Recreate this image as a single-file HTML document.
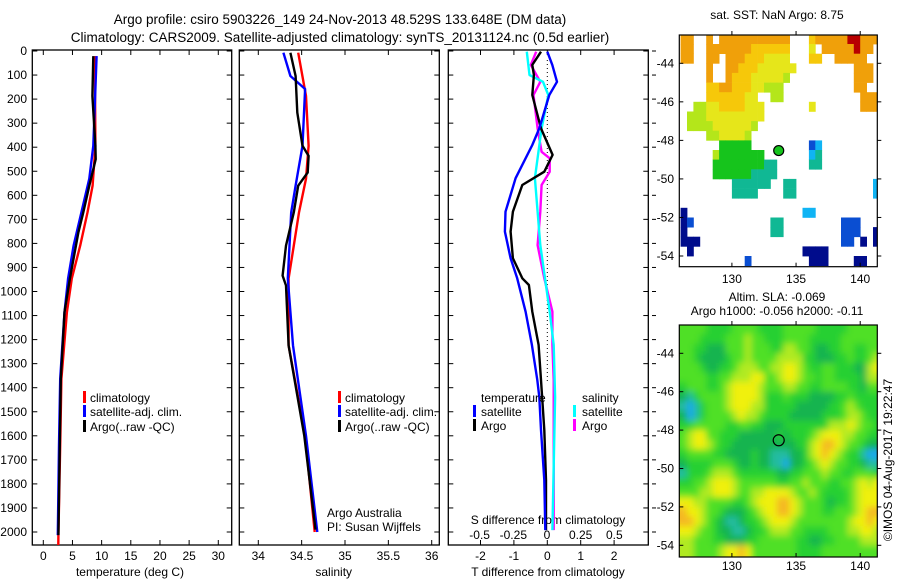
<!DOCTYPE html>
<html><head><meta charset="utf-8"><style>
body{margin:0;background:#fff;}
svg{display:block;font-family:"Liberation Sans",sans-serif;}
</style></head><body>
<svg id="fig" width="900" height="580" viewBox="0 0 900 580" xmlns="http://www.w3.org/2000/svg">
<defs>
<clipPath id="cp1"><rect x="28" y="50" width="204" height="495"/></clipPath>
<clipPath id="cp2"><rect x="239.3" y="50" width="200" height="495"/></clipPath>
<clipPath id="cp3"><rect x="448.3" y="50" width="200" height="495"/></clipPath>
<clipPath id="cm1"><rect x="679.3" y="35" width="198" height="231.7"/></clipPath>
<clipPath id="cm2"><rect x="679.3" y="325" width="198" height="232"/></clipPath>
<filter id="blur" x="-5%" y="-5%" width="110%" height="110%"><feGaussianBlur stdDeviation="3.5"/></filter>
</defs>
<text x="340" y="24" text-anchor="middle" font-size="13.5">Argo profile: csiro 5903226_149 24-Nov-2013 48.529S 133.648E (DM data)</text>
<text x="340" y="42" text-anchor="middle" font-size="13.5">Climatology: CARS2009. Satellite-adjusted climatology: synTS_20131124.nc (0.5d earlier)</text>
<g id="g1"></g>
<g id="g2"></g>
<g id="g3"></g>
<g id="gm1"></g>
<g id="gm2"></g>
</svg>
<script>
// ---------- profile data ----------
const tClimDepth = [21,394,560,671,809,946,1086,1363,1640,2013,2060];
const tClimVal   = [8.83,8.93,8.46,7.58,6.33,4.88,4.04,3.11,2.90,2.59,2.57];
const tSatDepth  = [21,394,531,671,809,946,1086,1363,1640,2013];
const tSatVal    = [9.14,8.58,7.89,6.54,5.19,4.25,3.63,2.90,2.69,2.48];
const tArgoDepth = [21,187,394,450,560,671,754,946,1086,1363,2013];
const tArgoVal   = [8.57,8.41,8.93,8.99,7.89,6.85,6.02,4.56,3.63,3.00,2.59];

const sClimDepth = [7,187,394,531,671,809,946,1224,1600,2000];
const sClimVal   = [34.46,34.55,34.58,34.55,34.47,34.41,34.35,34.35,34.54,34.65];
const sSatDepth  = [7,104,158,394,560,671,809,946,1224,1600,2000];
const sSatVal    = [34.29,34.37,34.54,34.51,34.43,34.38,34.36,34.34,34.40,34.55,34.68];
const sArgoDepth = [7,104,256,394,436,505,560,671,809,934,975,1224,1600,1990];
const sArgoVal   = [34.37,34.43,34.45,34.51,34.58,34.57,34.46,34.41,34.32,34.28,34.32,34.35,34.53,34.66];

const dTSatDepth  = [3,58,128,183,322,391,529,668,751,862,945,1084,1222,1368,1439,1576,1784,1992];
const dTSatVal    = [0.0,0.15,0.29,0.06,-0.24,-0.45,-0.95,-1.25,-1.27,-1.1,-0.9,-0.65,-0.46,-0.3,-0.24,-0.19,-0.09,-0.06];
const dTArgoDepth = [3,58,100,183,322,432,502,557,668,751,862,945,973,1084,1222,1368,1576,1784,1992];
const dTArgoVal   = [-0.19,-0.45,-0.4,-0.45,-0.19,0.16,-0.09,-0.75,-1.03,-1.1,-1.03,-0.75,-0.55,-0.45,-0.26,-0.19,-0.09,-0.04,-0.04];
const dSArgoDepth = [3,58,128,183,322,419,446,502,557,668,807,945,1084,1222,1368,1576,1992];
const dSArgoVal   = [-0.08,-0.12,-0.05,-0.10,-0.07,-0.04,0.02,0.02,-0.04,-0.05,-0.07,-0.02,0.04,0.04,0.05,0.05,0.05];
const dSSatDepth  = [3,100,128,183,322,529,807,1084,1222,1439,1992];
const dSSatVal    = [-0.15,-0.13,-0.03,0.01,-0.04,-0.09,-0.05,0.02,0.05,0.06,0.04];

const depthTicks = [0,100,200,300,400,500,600,700,800,900,1000,1100,1200,1300,1400,1500,1600,1700,1800,1900,2000];
const tempTicks = [0,5,10,15,20,25,30];
const salTicks = ["34","34.5","35","35.5","36"];
const tdTicks = ["-2","-1","0","1","2"];
const sdTicks = ["-0.5","-0.25","0","0.25","0.5"];

// ---------- map data (0.5 deg cells, rows from 42.5S southward, cols from 126E) ----------
const sstRows = [
"88..8.88888888888...78888899888",
"88..8888888777777...6.88888988.",
"88..88.8887776666...77..88888..",
"....8..88777666666.........888.",
"....8..8777666665..........888.",
"....778877766555...........88..",
"....77777766..55............888",
"..55667777666.......6.......888",
".555666666666..................",
".55556666665...................",
"....5566665....................",
"......44444.........12.........",
".....54444444.......23.........",
".....4444444433.....33.........",
".....4444443333................",
"........333333..33............2",
"........3333....33............2",
"...............................",
"0..................22..........",
"01............33.........111...",
"0.............33.........111..0",
"000......................11.0.0",
".0.................0000........",
"..........1.........000....00.."];
const sstColors = ["#000c8c","#0a4ed2","#10b4f4","#10b894","#16c41c","#b4e61a","#e6e61a","#f6c80a","#f0a00a","#b80000"];

const slaRows = [
"4444333344"+"4433334444"+"4333334444"+"4",
"4443333444"+"5443334444"+"3333344444"+"4",
"4433222444"+"5444335544"+"3223344334"+"4",
"4432222344"+"5444455553"+"3222334334"+"5",
"4443223345"+"5544556654"+"3344333225"+"6",
"4444334455"+"5664456654"+"4344333325"+"5",
"3444334566"+"6654445544"+"3344443324"+"4",
"2134444566"+"6653334333"+"2222334333"+"3",
"1013444566"+"6553333322"+"2223345433"+"3",
"2013444456"+"5543333222"+"2233345543"+"3",
"3344444334"+"4332223333"+"3335556544"+"3",
"4566443332"+"2222232333"+"4566655443"+"3",
"4566543322"+"2222222233"+"5677654432"+"2",
"3444433222"+"2322111223"+"5676543310"+"0",
"2333344432"+"2322110223"+"4565443321"+"1",
"1333455543"+"3333322334"+"4454433444"+"3",
"3344566654"+"4444433445"+"4443344565"+"6",
"4445566654"+"4556666544"+"5433334566"+"6",
"6655444433"+"4566677654"+"4432334566"+"6",
"7665443222"+"3456677654"+"4433444567"+"7",
"7765432112"+"3345666544"+"4444445667"+"6",
"6654432211"+"2334555443"+"3334445566"+"5",
"5544433222"+"3344444433"+"2233444455"+"5",
"5544445667"+"6444444433"+"3344444444"+"4"];
const slaColors = ["#1ea8f0","#20bca0","#18b450","#28d030","#50e028","#b0ea20","#f0f010","#f4b820"];

const argoLon = 133.648, argoLat = -48.529;
const lonTicks = [130,135,140];
const latTicks = [-44,-46,-48,-50,-52,-54];

// ---------- helpers ----------
const NS="http://www.w3.org/2000/svg";
function mk(tag,attrs,parent){const e=document.createElementNS(NS,tag);for(const k in attrs)e.setAttribute(k,attrs[k]);parent.appendChild(e);return e;}
function txt(s,x,y,anchor,size,parent){const t=mk('text',{x:x,y:y,'text-anchor':anchor,'font-size':size},parent);t.textContent=s;return t;}

const yD = d => 51 + d*0.2405;
const xT = t => 43.3 + t*5.833;
const xS = s => 258.3 + (s-34)*86.7;
const xTD = v => 547.3 + v*33.4;
const xSD = v => 547 + v*134.7;
const mx = lon => 679.3 + (lon-125.9)*12.83;
const my1 = lat => 63.3 + (-44-lat)*19.27;
const my2 = lat => 353.3 + (-44-lat)*19.2;

function line(depths,vals,xf,color,parent,name,w){
  const pts=depths.map((d,i)=>xf(vals[i]).toFixed(1)+","+yD(d).toFixed(1)).join(" ");
  const p=mk('polyline',{points:pts,fill:'none',stroke:color,'stroke-width':w||2.4,'stroke-linejoin':'round'},parent);
  
  
}
function frame(g,x0,x1,name){
  const r=mk('rect',{x:x0,y:50,width:x1-x0,height:495,fill:'none',stroke:'#000','stroke-width':1.3},g);
  
  
  depthTicks.forEach(d=>{
    mk('line',{x1:x0,x2:x0+5,y1:yD(d),y2:yD(d),stroke:'#000'},g);
    mk('line',{x1:x1,x2:x1-5,y1:yD(d),y2:yD(d),stroke:'#000'},g);
  });
}
function legendMark(g,x,y,color){mk('rect',{x:x,y:y-11,width:3,height:12,fill:color},g);}

// ---------- panel 1 ----------
const g1=document.getElementById('g1');
frame(g1,32.3,231.7,'temperature-axes-frame');
depthTicks.forEach(d=>{const t=txt(String(d),27,yD(d)+4,'end',12,g1);

});
tempTicks.forEach(v=>{mk('line',{x1:xT(v),x2:xT(v),y1:50,y2:55,stroke:'#000'},g1);mk('line',{x1:xT(v),x2:xT(v),y1:545,y2:540,stroke:'#000'},g1);
const t=txt(String(v),xT(v),560,'middle',12,g1);

});
const xl1=txt('temperature (deg C)',130,576,'middle',12,g1);


const c1=mk('g',{'clip-path':'url(#cp1)'},g1);
line(tClimDepth,tClimVal,xT,'#ff0000',c1,'temp-climatology-line');
line(tSatDepth,tSatVal,xT,'#0000ff',c1,'temp-satellite-line');
line(tArgoDepth,tArgoVal,xT,'#000000',c1,'temp-argo-line');
const L1=mk('g',{},g1);


[['climatology','#f00',402],['satellite-adj. clim.','#00f',416],['Argo(..raw -QC)','#000',431]].forEach(a=>{legendMark(L1,83,a[2],a[1]);txt(a[0],90,a[2],'start',12,L1);});

// ---------- panel 2 ----------
const g2=document.getElementById('g2');
frame(g2,239.3,439.3,'salinity-axes-frame');
salTicks.forEach(s=>{const v=parseFloat(s);mk('line',{x1:xS(v),x2:xS(v),y1:50,y2:55,stroke:'#000'},g2);mk('line',{x1:xS(v),x2:xS(v),y1:545,y2:540,stroke:'#000'},g2);
const t=txt(s,xS(v),560,'middle',12,g2);

});
const xl2=txt('salinity',xS(34.87),576,'middle',12,g2);


const c2=mk('g',{'clip-path':'url(#cp2)'},g2);
line(sClimDepth,sClimVal,xS,'#ff0000',c2,'sal-climatology-line');
line(sSatDepth,sSatVal,xS,'#0000ff',c2,'sal-satellite-line');
line(sArgoDepth,sArgoVal,xS,'#000000',c2,'sal-argo-line');
const L2=mk('g',{},g2);


[['climatology','#f00',402],['satellite-adj. clim.','#00f',416],['Argo(..raw -QC)','#000',431]].forEach(a=>{legendMark(L2,338,a[2],a[1]);txt(a[0],345,a[2],'start',12,L2);});
const pi=mk('g',{},g2);


txt('Argo Australia',327,517,'start',12,pi);txt('PI: Susan Wijffels',327,531,'start',12,pi);

// ---------- panel 3 ----------
const g3=document.getElementById('g3');
frame(g3,448.3,648.3,'difference-axes-frame');
depthTicks.forEach(d=>mk('line',{x1:652,x2:656,y1:yD(d),y2:yD(d),stroke:'#000'},g3));
tdTicks.forEach(s=>{const v=parseFloat(s);mk('line',{x1:xTD(v),x2:xTD(v),y1:50,y2:55,stroke:'#000'},g3);mk('line',{x1:xTD(v),x2:xTD(v),y1:545,y2:540,stroke:'#000'},g3);
const t=txt(s,xTD(v),560,'middle',12,g3);

});
sdTicks.forEach(s=>{const v=parseFloat(s);const t=txt(s,xSD(v),539,'middle',12,g3);

});
const st=txt('S difference from climatology',548,524,'middle',12,g3);


const tt=txt('T difference from climatology',548,576,'middle',12,g3);


const zl=mk('line',{x1:xTD(0),x2:xTD(0),y1:60,y2:384,stroke:'#000','stroke-width':1,'stroke-dasharray':'1,3'},g3);


const c3=mk('g',{'clip-path':'url(#cp3)'},g3);
line(dSArgoDepth,dSArgoVal,xSD,'#ff00ff',c3,'s-diff-argo-line');
line(dSSatDepth,dSSatVal,xSD,'#00ffff',c3,'s-diff-satellite-line');
line(dTArgoDepth,dTArgoVal,xTD,'#000000',c3,'t-diff-argo-line');
line(dTSatDepth,dTSatVal,xTD,'#0000ff',c3,'t-diff-satellite-line');
const L3=mk('g',{},g3);


txt('temperature',481,402,'start',12,L3);txt('salinity',582,402,'start',12,L3);
legendMark(L3,473,416,'#00f');txt('satellite',481,416,'start',12,L3);
legendMark(L3,473,430,'#000');txt('Argo',481,430,'start',12,L3);
legendMark(L3,573,416,'#0ff');txt('satellite',582,416,'start',12,L3);
legendMark(L3,573,430,'#f0f');txt('Argo',582,430,'start',12,L3);

// ---------- maps ----------
function drawMap(g,rows,colors,myf,clip,blurred,name){
  const cg=mk('g',{'clip-path':clip},g);
  const inner=mk('g',blurred?{filter:'url(#blur)'}:{},cg);
  
  
  rows.forEach((row,r)=>{
    for(let c=0;c<row.length;c++){
      const ch=row[c]; if(ch==='.')continue;
      const lon=126+c*0.5, lat=-42.5-r*0.5;
      let x0=mx(lon),x1=mx(lon+0.5),y0=myf(lat),y1=myf(lat-0.5);
      if(blurred){ if(c===0)x0-=15; if(c===row.length-1)x1+=15; if(r===0)y0-=15; if(r===rows.length-1)y1+=15; }
      const cell=mk('rect',{x:x0.toFixed(1),y:y0.toFixed(1),width:(x1-x0+0.4).toFixed(1),height:(y1-y0+0.4).toFixed(1),fill:colors[+ch]},inner);
      
      
    }
  });
}
function mapAxes(g,y0,y1,myf,lonLabelY,name){
  const r=mk('rect',{x:679.3,y:y0,width:198,height:y1-y0,fill:'none',stroke:'#000','stroke-width':1.2},g);
  
  
  lonTicks.forEach(l=>{mk('line',{x1:mx(l),x2:mx(l),y1:y0,y2:y0-4,stroke:'#000'},g);mk('line',{x1:mx(l),x2:mx(l),y1:y1,y2:y1-4,stroke:'#000'},g);
    const t=txt(String(l),mx(l),lonLabelY,'middle',12,g);
    
    });
  latTicks.forEach(l=>{mk('line',{x1:877.3,x2:881.3,y1:myf(l),y2:myf(l),stroke:'#000'},g);mk('line',{x1:679.3,x2:683.3,y1:myf(l),y2:myf(l),stroke:'#000'},g);
    const t=txt(String(l),674,myf(l)+4,'end',12,g);
    
    });
}
const gm1=document.getElementById('gm1');
const mt1=txt('sat. SST: NaN Argo: 8.75',777,19,'middle',12,gm1);


drawMap(gm1,sstRows,sstColors,my1,'url(#cm1)',false,'sst-cells');
mapAxes(gm1,35,266.7,my1,283,'sst-map-frame');
const d1=mk('circle',{cx:mx(argoLon),cy:my1(argoLat),r:5,fill:'#16c41c',stroke:'#000','stroke-width':1.2},gm1);



const gm2=document.getElementById('gm2');
const mt2=txt('Altim. SLA: -0.069',777,301,'middle',12,gm2);


const mt3=txt('Argo h1000: -0.056 h2000: -0.11',777,315,'middle',12,gm2);


mk('rect',{x:679.3,y:325,width:198,height:232,fill:'#50e028'},gm2);
drawMap(gm2,slaRows,slaColors,my2,'url(#cm2)',true,'sla-cells');
mapAxes(gm2,325,557,my2,570,'sla-map-frame');
const d2=mk('circle',{cx:mx(argoLon),cy:my2(argoLat),r:5.5,fill:'none',stroke:'#000','stroke-width':1.2},gm2);


const cr=txt('©IMOS 04-Aug-2017 19:22:47',0,0,'middle',12,gm2);
cr.setAttribute('transform','translate(892,460) rotate(-90)');


</script>
</body></html>
